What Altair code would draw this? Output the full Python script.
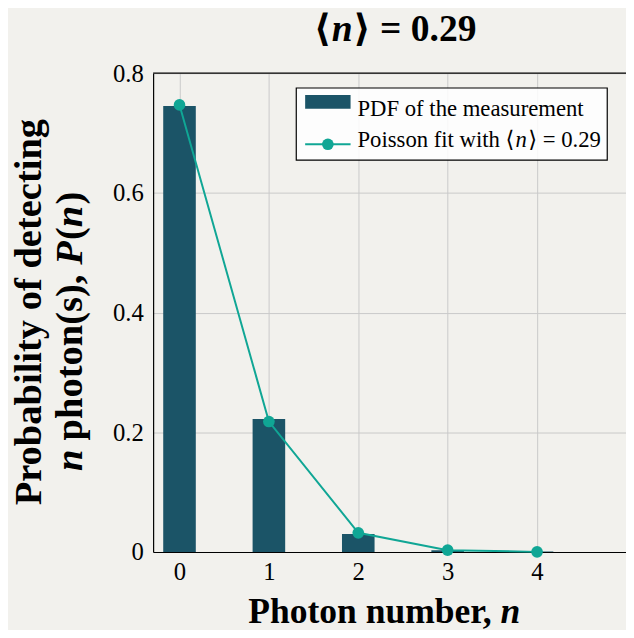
import altair as alt
import pandas as pd

# Data
photon_n = [0, 1, 2, 3, 4]
pdf_measured = [0.745, 0.222, 0.030, 0.003, 0.0007]
poisson_fit = [0.747, 0.218, 0.032, 0.003, 0.0002]
y_ticks = [0, 0.2, 0.4, 0.6, 0.8]

df = pd.DataFrame({"n": photon_n, "pdf": pdf_measured, "fit": poisson_fit})

W, H = 479, 485
FONT = "Liberation Serif, DejaVu Serif, serif"
BAR_COLOR = "#1b5467"
LINE_COLOR = "#10a695"
BG = "#f2f1ed"

xscale = alt.Scale(domain=[-0.24, 4.94], nice=False, zero=False)
yscale = alt.Scale(domain=[0, 0.8], nice=False)

xaxis = alt.Axis(
    values=photon_n, format="d", title=None,
    labelFont=FONT, labelFontSize=25, labelColor="black", labelPadding=8,
    ticks=False, domainColor="black", domainWidth=1.2,
    grid=True, gridColor="#c9c9c9", gridWidth=1,
)
yaxis = alt.Axis(
    values=y_ticks, title=None,
    labelExpr="datum.value == 0 ? '0' : format(datum.value, '.1f')",
    labelFont=FONT, labelFontSize=25, labelColor="black", labelPadding=10,
    ticks=False, domainColor="black", domainWidth=1.2,
    grid=True, gridColor="#c9c9c9", gridWidth=1,
)

base = alt.Chart(df)

bars = base.mark_bar(color=BAR_COLOR, size=33).encode(
    x=alt.X("n:Q", scale=xscale, axis=xaxis),
    y=alt.Y("pdf:Q", scale=yscale, axis=yaxis),
)
line = base.mark_line(color=LINE_COLOR, strokeWidth=2).encode(
    x=alt.X("n:Q", scale=xscale), y=alt.Y("fit:Q", scale=yscale)
)
pts = base.mark_circle(color=LINE_COLOR, size=140, opacity=1).encode(
    x=alt.X("n:Q", scale=xscale), y=alt.Y("fit:Q", scale=yscale)
)

one = pd.DataFrame({"k": [0]})

top_border = alt.Chart(one).mark_rule(color="black", strokeWidth=1.2).encode(
    x=alt.value(0), x2=alt.value(W), y=alt.value(0)
)


def txt(s, x, y, size, align="left", bold=False, italic=False, angle=0):
    kw = dict(font=FONT, fontSize=size, align=align, baseline="alphabetic", color="black")
    if bold:
        kw["fontWeight"] = "bold"
    if italic:
        kw["fontStyle"] = "italic"
    if angle:
        kw["angle"] = angle
    return alt.Chart(one).mark_text(**kw).encode(
        x=alt.value(x), y=alt.value(y), text=alt.value(s)
    )


# Title  <n> = 0.29
T_SIZE = 38
title_parts = [
    txt("⟨", 180, -33, T_SIZE, align="right", bold=True),
    txt("n", 181, -33, T_SIZE, bold=True, italic=True),
    txt("⟩ = 0.29", 203, -33, T_SIZE, bold=True),
]

# X-axis title: Photon number, n
xtitle = [
    txt("Photon number,", 343, 557, 36, align="right", bold=True),
    txt("n", 352, 557, 36, bold=True, italic=True),
]

# Y-axis title (rotated), two lines
Y_SIZE = 39
yl1 = -114  # baseline of line 1 (plot-relative x)
yl2 = -72   # baseline of line 2
ytitle = [
    txt("Probability of detecting", yl1, 242, Y_SIZE, align="center", bold=True, angle=270),
    txt("n", yl2, 403, Y_SIZE, bold=True, italic=True, angle=270),
    txt("photon(s),", yl2, 372, Y_SIZE, bold=True, angle=270),
    txt("P", yl2, 194, Y_SIZE, bold=True, italic=True, angle=270),
    txt("(", yl2, 169, Y_SIZE, bold=True, angle=270),
    txt("n", yl2, 156, Y_SIZE, bold=True, italic=True, angle=270),
    txt(")", yl2, 133, Y_SIZE, bold=True, angle=270),
]

# Legend (manually drawn)
leg_box = alt.Chart(one).mark_rect(fill="white", fillOpacity=0.85, stroke="black", strokeWidth=1.2).encode(
    x=alt.value(145), x2=alt.value(460), y=alt.value(15), y2=alt.value(88)
)
leg_swatch = alt.Chart(one).mark_rect(fill=BAR_COLOR).encode(
    x=alt.value(154), x2=alt.value(200), y=alt.value(22), y2=alt.value(36)
)
leg_line = alt.Chart(one).mark_rule(color=LINE_COLOR, strokeWidth=2).encode(
    x=alt.value(154), x2=alt.value(200), y=alt.value(72)
)
leg_pt = alt.Chart(one).mark_circle(color=LINE_COLOR, size=140, opacity=1).encode(
    x=alt.value(177), y=alt.value(72)
)
L_SIZE = 23
legend = [
    leg_box, leg_swatch, leg_line, leg_pt,
    txt("PDF of the measurement", 207, 43, L_SIZE),
    txt("Poisson fit with ⟨", 207, 75, L_SIZE),
    txt("n", 367, 75, L_SIZE, italic=True),
    txt("⟩ = 0.29", 380, 75, L_SIZE),
]

chart = alt.layer(
    bars, line, pts, top_border, *legend, *title_parts, *xtitle, *ytitle
).properties(
    width=W, height=H,
    padding={"left": 147, "top": 62, "right": 0, "bottom": 75},
    autosize=alt.AutoSizeParams(type="none"),
    background=BG,
).configure_view(stroke=None)

chart.save("out.html", embed_options={"renderer": "svg", "actions": False})
